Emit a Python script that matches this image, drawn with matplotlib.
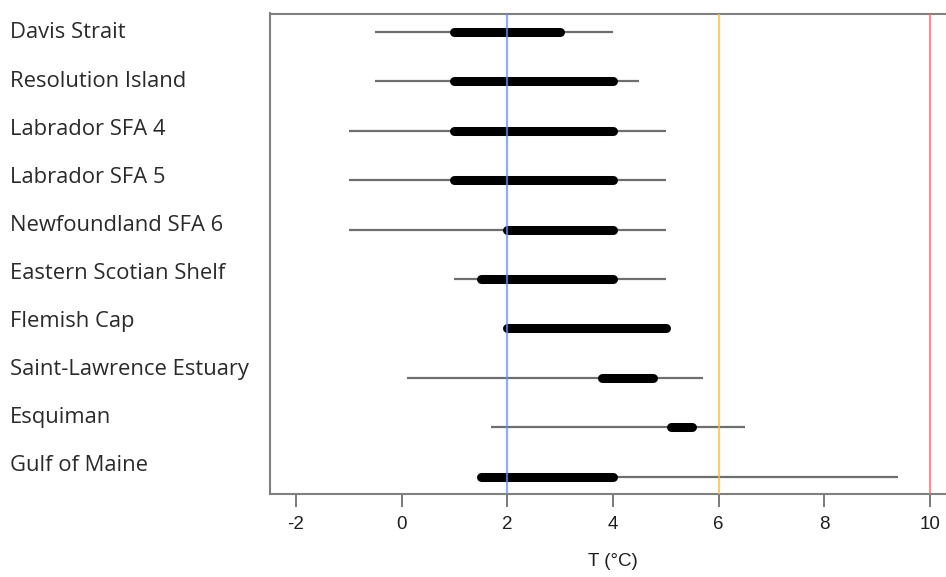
import matplotlib
matplotlib.use("Agg")
import matplotlib.pyplot as plt
import numpy as np

regions = ["Davis Strait", "Resolution Island", "Labrador SFA 4", "Labrador SFA 5",
           "Newfoundland SFA 6", "Eastern Scotian Shelf", "Flemish Cap",
           "Saint-Lawrence Estuary", "Esquiman", "Gulf of Maine"]
range_min = [-0.5, -0.5, -1.0, -1.0, -1.0, 1.0, 2.0, 0.1, 1.7, 1.5]
range_max = [4.0, 4.5, 5.0, 5.0, 5.0, 5.0, 5.0, 5.7, 6.5, 9.4]
core_min = [1.0, 1.0, 1.0, 1.0, 2.0, 1.5, 2.0, 3.8, 5.1, 1.5]
core_max = [3.0, 4.0, 4.0, 4.0, 4.0, 4.0, 5.0, 4.75, 5.5, 4.0]
ref_temps = [2, 6, 10]
ref_colors = ["#6f8ff0", "#ffb84d", "#f07070"]
xticks = [-2, 0, 2, 4, 6, 8, 10]

W, H = 946, 577
fig = plt.figure(figsize=(W / 100, H / 100), dpi=100)
ax = fig.add_axes([270 / W, 1 - 494 / H, 686.4 / W, (494 - 13.5) / H])

y = np.arange(len(regions))
for i in range(len(regions)):
    ax.plot([range_min[i], range_max[i]], [y[i], y[i]], color="#6e6e6e",
            lw=1.6, solid_capstyle="butt", zorder=2)
    ax.plot([core_min[i], core_max[i]], [y[i], y[i]], color="black",
            lw=6.5, solid_capstyle="round", zorder=3)

for t, c in zip(ref_temps, ref_colors):
    ax.axvline(t, color=c, lw=1.6, alpha=0.75, zorder=4)

ax.set_xlim(-2.49, 10.5)
ax.set_ylim(9.35, -0.37)
ax.set_yticks([])
ax.set_xticks(xticks)
ax.set_xticklabels([str(v) for v in xticks], fontfamily="Liberation Sans",
                   fontsize=13.5, color="#1e1e1e")
ax.tick_params(axis="x", length=9, width=1.3, color="#707070", pad=7)
for s in ax.spines.values():
    s.set_color("#808080")
    s.set_linewidth(1.5)
ax.set_xlabel("T (°C)", fontfamily="Liberation Sans", fontsize=13.5,
              color="#1e1e1e", labelpad=14)

for i, name in enumerate(regions):
    ypix = 33 + 48.1 * i
    fig.text(10 / W, 1 - ypix / H, name, ha="left", va="center",
             fontfamily="Open Sans", fontsize=15.8, color="#2a2a2a")

fig.savefig("out.png", dpi=100)
